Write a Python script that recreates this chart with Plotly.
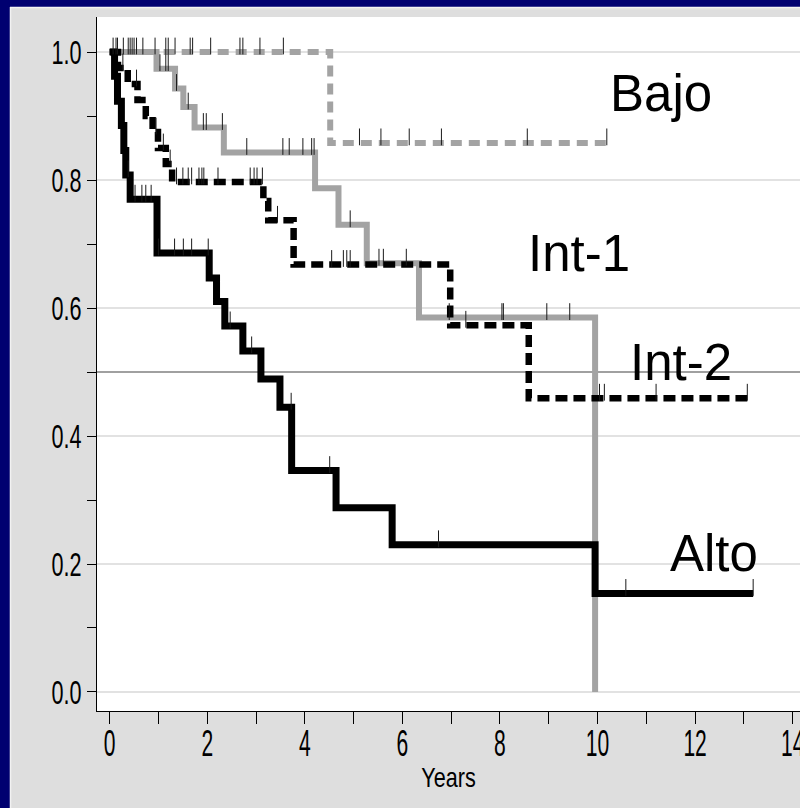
import numpy as np
import plotly.graph_objects as go

# ---- Kaplan-Meier step data (years, survival) ----
alto_t = [0.0, 0.10, 0.16, 0.24, 0.29, 0.33, 0.42, 0.97, 2.04, 2.19, 2.36, 2.73, 3.10, 3.49, 3.73, 4.64, 5.79, 9.95, 13.19]
alto_s = [1.0, 0.962, 0.923, 0.885, 0.846, 0.808, 0.770, 0.686, 0.647, 0.610, 0.572, 0.533, 0.489, 0.445, 0.346, 0.288, 0.230, 0.154, 0.154]
alto_cens = [0.38, 0.52, 0.66, 0.74, 0.85, 1.00, 1.33, 1.51, 1.68, 2.02, 2.47, 2.91, 3.72, 4.51, 6.74, 10.58, 13.19]

int1_t = [0.0, 0.96, 1.34, 1.51, 1.74, 2.34, 4.21, 4.69, 5.27, 6.34, 9.95]
int1_s = [1.0, 0.974, 0.943, 0.914, 0.882, 0.843, 0.787, 0.730, 0.670, 0.585, 0.0]
int1_cens = [1.03, 1.15, 1.20, 1.37, 1.61, 1.92, 1.98, 2.31, 2.81, 3.55, 3.68, 3.96, 4.14, 4.19,
             4.93, 5.52, 5.61, 6.08, 6.96, 8.04, 8.07, 8.96, 9.43]

int2_t = [0.0, 0.17, 0.37, 0.57, 0.74, 0.88, 0.99, 1.15, 1.28, 3.15, 3.25, 3.77, 6.98, 8.59, 13.07]
int2_s = [1.0, 0.975, 0.950, 0.925, 0.900, 0.875, 0.850, 0.825, 0.797, 0.767, 0.737, 0.668, 0.573, 0.459, 0.459]
int2_cens = [0.27, 0.55, 0.95, 1.10, 1.24, 1.37, 1.50, 1.61, 1.68, 1.83, 1.89, 1.93, 2.22, 2.88, 2.96,
             3.02, 3.13, 3.44, 4.55, 4.79, 4.86, 4.93, 7.30, 10.04, 10.14, 11.20, 13.07]

bajo_t = [0.0, 4.52, 10.19]
bajo_s = [1.0, 0.858, 0.858]
bajo_cens = [0.07, 0.13, 0.16, 0.28, 0.38, 0.42, 0.46, 0.50, 0.55, 0.68, 0.93, 1.15, 1.20, 1.34,
             1.65, 1.70, 2.07, 2.67, 2.73, 3.08, 3.56, 5.12, 5.56, 6.14, 6.80, 8.56, 10.19]

group_labels = ["Bajo", "Int-1", "Int-2", "Alto"]
label_x = [10.21, 8.53, 10.62, 11.45]
label_y = [0.935, 0.685, 0.515, 0.217]

x_ticks = list(range(0, 15, 2))
median_level = 0.5

# ---- figure geometry ----
W, H = 800, 808
ML, MT, MB = 97, 17, 97
PLOT_W = W - ML
PLOT_H = H - MT - MB
X_RANGE = [-0.26, 14.15]
Y_RANGE = [-0.0297, 1.0547]
px_per_y = PLOT_H / (Y_RANGE[1] - Y_RANGE[0])
TICK_PX = 12
tick_shift = (TICK_PX / 2) / px_per_y

GRAY = "#a3a3a3"
NAVY = "#000070"
PANEL = "#dedede"
AXIS_FONT = "Liberation Sans, Arial, sans-serif"
LABEL_FONT = "Liberation Sans, Arial, sans-serif"


def level_at(times, surv, t):
    idx = np.searchsorted(np.asarray(times), t, side="right") - 1
    return np.asarray(surv)[idx]


series = [
    (bajo_t, bajo_s, bajo_cens, dict(color=GRAY, width=6, dash="11px,7px")),
    (int1_t, int1_s, int1_cens, dict(color=GRAY, width=6)),
    (int2_t, int2_s, int2_cens, dict(color="black", width=6.5, dash="12px,6px")),
    (alto_t, alto_s, alto_cens, dict(color="black", width=7)),
]

fig = go.Figure()

for t, s, cens, line in series:
    fig.add_trace(go.Scatter(x=t, y=s, mode="lines", line=dict(shape="hv", **line),
                             showlegend=False, hoverinfo="skip"))

for t, s, cens, line in series:
    cy = level_at(t, s, np.asarray(cens)) + tick_shift
    fig.add_trace(go.Scatter(x=cens, y=cy, mode="markers",
                             marker=dict(symbol="line-ns", size=TICK_PX,
                                         line=dict(width=1, color="#1a1a1a")),
                             showlegend=False, hoverinfo="skip"))

for txt, lx, ly in zip(group_labels, label_x, label_y):
    fig.add_annotation(x=lx, y=ly, text=txt, showarrow=False, xanchor="left", yanchor="middle",
                       font=dict(family=LABEL_FONT, size=51, color="black"))

# median reference line
fig.add_shape(type="line", xref="paper", x0=0, x1=1, yref="y", y0=median_level, y1=median_level,
              line=dict(color="#a0a0a0", width=2), layer="below")


def px_x(px):
    return (px - ML) / PLOT_W


def px_y(py):
    return (MT + PLOT_H - py) / PLOT_H


# navy frame strips on the left and top
fig.add_shape(type="rect", xref="paper", yref="paper", x0=px_x(0), x1=px_x(10), y0=px_y(H), y1=px_y(0),
              fillcolor=NAVY, line_width=0, layer="below")
fig.add_shape(type="rect", xref="paper", yref="paper", x0=px_x(0), x1=px_x(W), y0=px_y(7), y1=px_y(0),
              fillcolor=NAVY, line_width=0, layer="below")
fig.add_shape(type="line", xref="paper", yref="paper", x0=px_x(10.5), x1=px_x(10.5), y0=px_y(H), y1=px_y(7),
              line=dict(color="#f2f2f2", width=1.5), layer="below")
fig.add_shape(type="line", xref="paper", yref="paper", x0=px_x(10), x1=px_x(W), y0=px_y(7.5), y1=px_y(7.5),
              line=dict(color="#f2f2f2", width=1.5), layer="below")

fig.update_layout(
    width=W, height=H,
    margin=dict(l=ML, r=0, t=MT, b=MB, pad=0, autoexpand=False),
    paper_bgcolor=PANEL, plot_bgcolor="white",
    xaxis=dict(range=X_RANGE, tickmode="array", tickvals=x_ticks, ticks="outside", ticklen=12,
               tickwidth=1, tickcolor="black", showline=True, linecolor="black", linewidth=1,
               showgrid=False, zeroline=False, ticklabeloverflow="allow", automargin=False,
               tickfont=dict(family=AXIS_FONT, size=27, color="black"),
               minor=dict(tickmode="linear", tick0=0, dtick=1, ticks="outside", ticklen=12,
                          tickcolor="black", tickwidth=1, showgrid=False),
               title=dict(text="Years", font=dict(family=AXIS_FONT, size=27, color="black"), standoff=6)),
    yaxis=dict(range=Y_RANGE, tickmode="linear", tick0=0, dtick=0.2, tickformat=".1f",
               ticks="outside", ticklen=9, tickwidth=1, tickcolor="black",
               showline=True, linecolor="black", linewidth=1, automargin=False,
               showgrid=True, gridcolor="#e2e2e2", gridwidth=2, zeroline=False,
               tickfont=dict(family=AXIS_FONT, size=27, color="black"),
               minor=dict(tickmode="linear", tick0=0, dtick=0.1, ticks="outside", ticklen=9,
                          tickcolor="black", tickwidth=1, showgrid=False)),
)

# Narrow, tall axis lettering: squeeze the axis texts horizontally around their anchors.
narrow_text_js = """
var gd = document.getElementById('{plot_id}');
function squeeze(sel, sx, sy, dy) {
  gd.querySelectorAll(sel).forEach(function (el) {
    var x = parseFloat(el.getAttribute('x') || 0);
    var y = parseFloat(el.getAttribute('y') || 0);
    var tr = el.getAttribute('transform') || '';
    el.setAttribute('transform', tr + ' translate(0,' + dy + ') translate(' + x + ',' + y + ') scale(' +
                    sx + ',' + sy + ') translate(' + (-x) + ',' + (-y) + ')');
  });
}
squeeze('.xtick text', 0.78, 1.4, 0);
squeeze('.ytick text', 0.8, 1.25, 2.5);
squeeze('.g-xtitle text', 0.8, 1.05, 0);
"""

fig.write_html("out.html", post_script=narrow_text_js)
